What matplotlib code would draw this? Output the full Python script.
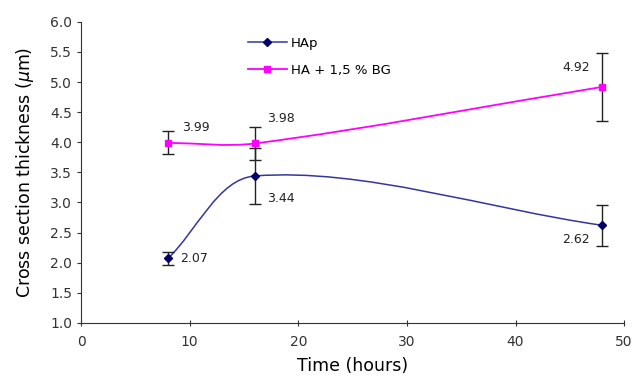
import numpy as np
import matplotlib
matplotlib.use('Agg')
import matplotlib.pyplot as plt
from matplotlib.path import Path
from matplotlib.patches import PathPatch

# data
time_h = [8, 16, 48]
hap = [2.07, 3.44, 2.62]
hap_err = [0.11, 0.47, 0.34]
habg = [3.99, 3.98, 4.92]
habg_err = [0.19, 0.27, 0.56]
labels_hap = ['2.07', '3.44', '2.62']
labels_habg = ['3.99', '3.98', '4.92']

C_HAP = '#3535a0'
C_HAP_MK = '#000066'
C_BG = '#ff00ff'


def smooth_path(ax, x, y):
    """Smoothed line like Excel's: chord-length Catmull-Rom as Beziers,
    worked out in pixel space so the curve shape follows the axes scaling."""
    tr = ax.transData
    pts = tr.transform(np.column_stack([x, y]).astype(float))
    ext = np.vstack([pts[0], pts, pts[-1]])
    t = np.concatenate([[0], np.cumsum(np.linalg.norm(np.diff(ext, axis=0), axis=1))])
    n = len(ext)
    tang = np.zeros_like(ext)
    for i in range(1, n - 1):
        dt = t[i + 1] - t[i - 1]
        tang[i] = (ext[i + 1] - ext[i - 1]) / dt if dt > 0 else 0
    verts = [pts[0]]
    codes = [Path.MOVETO]
    for i in range(1, n - 2):
        h = t[i + 1] - t[i]
        c1 = ext[i] + tang[i] * h / 3
        c2 = ext[i + 1] - tang[i + 1] * h / 3
        verts += [c1, c2, ext[i + 1]]
        codes += [Path.CURVE4] * 3
    verts = tr.inverted().transform(np.array(verts))
    return Path(verts, codes)


fig = plt.figure(figsize=(6.33, 3.83), dpi=100)
ax = fig.add_axes([0.128, 0.157, 0.858, 0.786])
ax.set_xlim(0, 50)
ax.set_ylim(1.0, 6.0)

ax.add_patch(PathPatch(smooth_path(ax, time_h, hap), fill=False, ec=C_HAP, lw=1.1, zorder=2))
ax.add_patch(PathPatch(smooth_path(ax, time_h, habg), fill=False, ec=C_BG, lw=1.3, zorder=2))

ax.errorbar(time_h, hap, yerr=hap_err, fmt='none', ecolor='#222222', elinewidth=1,
            capsize=4, capthick=1, zorder=3)
ax.errorbar(time_h, habg, yerr=habg_err, fmt='none', ecolor='#222222', elinewidth=1,
            capsize=4, capthick=1, zorder=3)
ax.plot(time_h, hap, ls='none', marker='D', ms=4, color=C_HAP_MK, zorder=4)
ax.plot(time_h, habg, ls='none', marker='s', ms=5, color=C_BG, zorder=4)

# legend entries drawn as proxies
ax.plot([], [], color=C_HAP, marker='D', ms=4, mfc=C_HAP_MK, mec=C_HAP_MK, lw=1.1, label='HAp')
ax.plot([], [], color=C_BG, marker='s', ms=5, lw=1.3, label='HA + 1,5 % BG')
ax.legend(loc='upper left', bbox_to_anchor=(0.285, 0.99), frameon=False, fontsize=9.5,
          handlelength=3.0, handletextpad=0.3, labelspacing=1.05)

lab_font = dict(fontsize=9, family=['Liberation Sans Narrow', 'DejaVu Sans Condensed', 'DejaVu Sans'],
                color='#222222')
offs_hap = [(9, 0), (9, -16), (-9, -10)]
offs_bg = [(10, 11), (9, 18), (-9, 14)]
for x, y, t, o in zip(time_h, hap, labels_hap, offs_hap):
    ax.annotate(t, (x, y), xytext=o, textcoords='offset points',
                ha='left' if o[0] > 0 else 'right', va='center', **lab_font)
for x, y, t, o in zip(time_h, habg, labels_habg, offs_bg):
    ax.annotate(t, (x, y), xytext=o, textcoords='offset points',
                ha='left' if o[0] > 0 else 'right', va='center', **lab_font)

ax.set_xticks([0, 10, 20, 30, 40, 50])
ax.set_yticks(np.arange(1.0, 6.01, 0.5))
ax.yaxis.set_major_formatter(matplotlib.ticker.FormatStrFormatter('%.1f'))
for s in ['top', 'right']:
    ax.spines[s].set_visible(False)
for s in ['left', 'bottom']:
    ax.spines[s].set_color('#333333')
ax.tick_params(axis='both', labelsize=10, colors='#333333', length=3)
ax.tick_params(axis='x', direction='inout', length=5, pad=6)

ax.set_xlabel('Time (hours)', fontsize=12.5, labelpad=6)
ax.set_ylabel(r'Cross section thickness ($\mu$m)', fontsize=12.5, labelpad=10)

fig.savefig('out.png', dpi=100)
